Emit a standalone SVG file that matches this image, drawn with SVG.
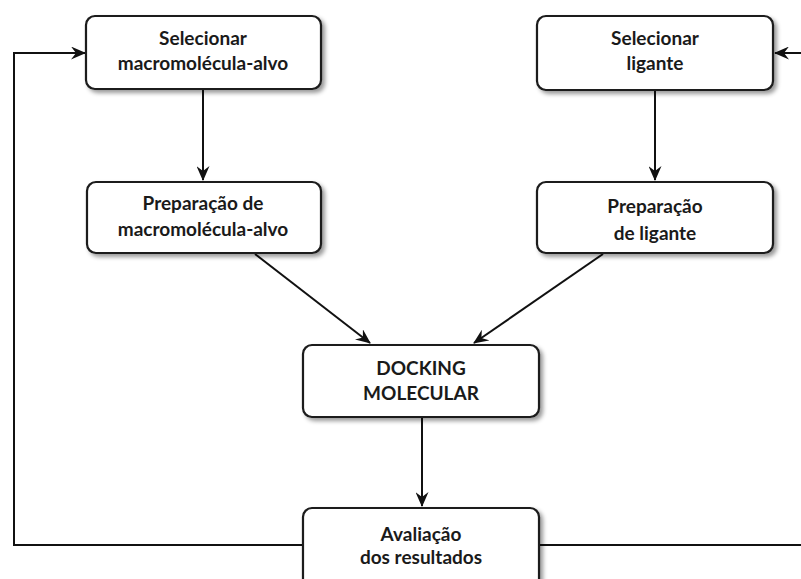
<svg xmlns="http://www.w3.org/2000/svg" width="801" height="579" viewBox="0 0 801 579">
<defs>
<filter id="sh" x="-10%" y="-10%" width="125%" height="135%">
<feDropShadow dx="3" dy="3" stdDeviation="2" flood-color="#000" flood-opacity="0.4"/>
</filter>
<marker id="ar" viewBox="0 0 15 13" refX="14" refY="6.5" markerWidth="15" markerHeight="13" markerUnits="userSpaceOnUse" orient="auto">
<path d="M0,0 L15,6.5 L0,13 L5,6.5 z" fill="#111"/>
</marker>
<style>
.box{fill:#fff;stroke:#1a1a1a;stroke-width:2.2;filter:url(#sh)}
.t{font-family:"Lato","Liberation Sans",sans-serif;font-weight:bold;font-size:19px;fill:#1a1a1a;text-anchor:middle}
.c{fill:none;stroke:#111;stroke-width:2}
</style>
</defs>
<g id="connectors">
<path class="c" d="M203,89 L203,180" marker-end="url(#ar)"/>
<path class="c" d="M655,90 L655,180" marker-end="url(#ar)"/>
<path class="c" d="M255,254 L370,343" marker-end="url(#ar)"/>
<path class="c" d="M603,254 L474,343" marker-end="url(#ar)"/>
<path class="c" d="M422,417 L422,506" marker-end="url(#ar)"/>
<path class="c" d="M303,545 L14,545 L14,53 L85,53" marker-end="url(#ar)"/>
<path class="c" d="M539,545 L801,545"/>
<path class="c" d="M801,53 L775,53" marker-end="url(#ar)"/>
</g>
<g id="n1"><rect class="box" x="86" y="16" width="235" height="73" rx="9"/>
<text class="t" x="203" y="45">Selecionar</text><text class="t" x="203" y="70">macromolécula-alvo</text></g>
<g id="n2"><rect class="box" x="537" y="16" width="236" height="74" rx="9"/>
<text class="t" x="655" y="45">Selecionar</text><text class="t" x="655" y="70">ligante</text></g>
<g id="n3"><rect class="box" x="87" y="182" width="234" height="71" rx="9"/>
<text class="t" x="203" y="210">Preparação de</text><text class="t" x="203" y="236">macromolécula-alvo</text></g>
<g id="n4"><rect class="box" x="537" y="182" width="236" height="71" rx="9"/>
<text class="t" x="655" y="213">Preparação</text><text class="t" x="655" y="240">de ligante</text></g>
<g id="n5"><rect class="box" x="303" y="345" width="236" height="72" rx="9"/>
<text class="t" x="421" y="375">DOCKING</text><text class="t" x="421" y="400">MOLECULAR</text></g>
<g id="n6"><rect class="box" x="303" y="508" width="236" height="80" rx="9"/>
<text class="t" x="421" y="541">Avaliação</text><text class="t" x="421" y="564">dos resultados</text></g>
</svg>
